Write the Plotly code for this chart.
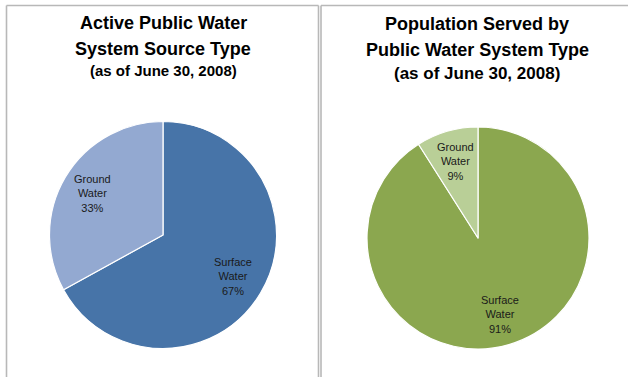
import math
import plotly.graph_objects as go

# Source type of active public water systems (share of systems)
source_labels = ["Surface Water", "Ground Water"]
source_values = [67, 33]

# Population served, by system type (share of population)
population_labels = ["Surface Water", "Ground Water"]
population_values = [91, 9]

W, H = 628, 377
FONT = "Liberation Sans, Arial, sans-serif"

# pie geometry in pixels: centre x, centre y (from top), radius
pies = [
    dict(labels=source_labels, values=source_values, cx=163, cy=235, r=113.5,
         colors=["#4774A8", "#93A9D1"]),
    dict(labels=population_labels, values=population_values, cx=478, cy=238, r=111,
         colors=["#8BA74F", "#B9CF97"]),
]

fig = go.Figure()
annotations = []

for p in pies:
    x0, x1 = (p["cx"] - p["r"]) / W, (p["cx"] + p["r"]) / W
    y0, y1 = (H - p["cy"] - p["r"]) / H, (H - p["cy"] + p["r"]) / H
    fig.add_trace(go.Pie(
        labels=p["labels"], values=p["values"], sort=False,
        direction="clockwise", rotation=0,
        marker=dict(colors=p["colors"], line=dict(color="white", width=1.2)),
        textinfo="none", hoverinfo="label+percent",
        domain=dict(x=[x0, x1], y=[y0, y1]), showlegend=False,
    ))
    # slice labels placed along each slice's mid-angle, slices running
    # clockwise from 12 o'clock
    total = sum(p["values"])
    cum = 0
    for lab, v in zip(p["labels"], p["values"]):
        theta = 2 * math.pi * (cum + v / 2) / total
        cum += v
        k = 0.72 * p["r"]
        lx = p["cx"] + k * math.sin(theta)
        ly = p["cy"] - k * math.cos(theta)
        word1, word2 = lab.split(" ")
        annotations.append(dict(
            x=lx / W, y=1 - ly / H, xref="paper", yref="paper",
            text=f"{word1}<br>{word2}<br>{round(100 * v / total)}%",
            showarrow=False, xanchor="center", yanchor="middle",
            font=dict(family=FONT, size=11, color="#1a1a1a"), align="center",
        ))

# chart titles, one annotation per line
titles = [
    (163, 23, "Active Public Water", 18),
    (163, 49, "System Source Type", 18),
    (163, 71, "(as of June 30, 2008)", 15),
    (477, 24, "Population Served by", 18),
    (477, 50, "Public Water System Type", 18),
    (477, 73, "(as of June 30, 2008)", 17),
]
for tx, ty, txt, size in titles:
    annotations.append(dict(
        x=tx / W, y=1 - ty / H, xref="paper", yref="paper", text=f"<b>{txt}</b>",
        showarrow=False, xanchor="center", yanchor="middle",
        font=dict(family=FONT, size=size, color="#000000"),
    ))

# panel frames
frame = dict(color="#b8b8b8", width=1.6)
shapes = []
for left, right in [(6.5, 318.5), (321, 630)]:
    shapes.append(dict(type="line", xref="paper", yref="paper",
                       x0=left / W, x1=right / W, y0=1 - 5.5 / H, y1=1 - 5.5 / H, line=frame))
    shapes.append(dict(type="line", xref="paper", yref="paper",
                       x0=left / W, x1=left / W, y0=1 - 5.5 / H, y1=-0.02, line=frame))
    if right < W:
        shapes.append(dict(type="line", xref="paper", yref="paper",
                           x0=right / W, x1=right / W, y0=1 - 5.5 / H, y1=-0.02, line=frame))

fig.update_layout(
    width=W, height=H, margin=dict(l=0, r=0, t=0, b=0),
    paper_bgcolor="white", plot_bgcolor="white",
    annotations=annotations, shapes=shapes,
)

fig.write_html("out.html")
